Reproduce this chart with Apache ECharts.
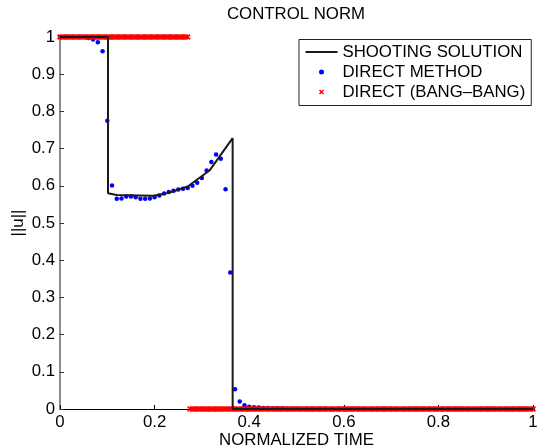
<!DOCTYPE html>
<html>
<head>
<meta charset="utf-8">
<script src="https://cdn.jsdelivr.net/npm/echarts@6/dist/echarts.min.js"></script>
<style>
  html, body { margin: 0; padding: 0; background: #fff; }
  #chart { width: 537px; height: 448px; }
</style>
</head>
<body>
<div id="chart"></div>
<script>
// ---- Shooting solution (black line) ----
var shootT = [0, 0.1015, 0.1015, 0.12, 0.197, 0.23, 0.27, 0.316, 0.365, 0.365, 1];
var shootU = [1, 1, 0.58, 0.575, 0.573, 0.581, 0.598, 0.641, 0.728, 0, 0];

// ---- Direct method (blue dots) ----
var dmT = [0,0.01,0.02,0.03,0.04,0.05,0.06,0.07,0.08,0.09,
  0.1,0.11,0.12,0.13,0.14,0.15,0.16,0.17,0.18,0.19,
  0.2,0.21,0.22,0.23,0.24,0.25,0.26,0.27,0.28,0.29,
  0.3,0.31,0.32,0.33,0.34,0.35,0.36,0.37,0.38,0.39,
  0.4,0.41,0.42,0.43,0.44,0.45,0.46,0.47,0.48,0.49,
  0.5,0.51,0.52,0.53,0.54,0.55,0.56,0.57,0.58,0.59,
  0.6,0.61,0.62,0.63,0.64,0.65,0.66,0.67,0.68,0.69,
  0.7,0.71,0.72,0.73,0.74,0.75,0.76,0.77,0.78,0.79,
  0.8,0.81,0.82,0.83,0.84,0.85,0.86,0.87,0.88,0.89,
  0.9,0.91,0.92,0.93,0.94,0.95,0.96,0.97,0.98,0.99,1];
var dmU = [1,1,1,1,1,1,0.997,0.993,0.986,0.962,
  0.775,0.601,0.565,0.566,0.571,0.571,0.569,0.565,0.565,0.566,
  0.569,0.574,0.579,0.583,0.587,0.590,0.592,0.594,0.600,0.608,
  0.621,0.641,0.664,0.684,0.673,0.591,0.367,0.053,0.020,0.010,
  0.006,0.005,0.004,0.003,0.003,0.002,0.002,0.002,0.001,0.001,
  0.001,0,0,0,0,0,0,0,0,0,
  0,0,0,0,0,0,0,0,0,0,
  0,0,0,0,0,0,0,0,0,0,
  0,0,0,0,0,0,0,0,0,0,
  0,0,0,0,0,0,0,0,0,0,0];

// ---- Direct (bang-bang) (red crosses) ----
var bangLevels = [1, 0];
var bangOnT = [0,0.005,0.01,0.015,0.02,0.025,0.03,0.035,0.04,0.045,
  0.05,0.055,0.06,0.065,0.07,0.075,0.08,0.085,0.09,0.095,
  0.1,0.105,0.11,0.115,0.12,0.125,0.13,0.135,0.14,0.145,
  0.15,0.155,0.16,0.165,0.17,0.175,0.18,0.185,0.19,0.195,
  0.2,0.205,0.21,0.215,0.22,0.225,0.23,0.235,0.24,0.245,
  0.25,0.255,0.26,0.265,0.27];
var bangOffT = [0.275,0.28,0.285,0.29,0.295,
  0.3,0.305,0.31,0.315,0.32,0.325,0.33,0.335,0.34,0.345,
  0.35,0.355,0.36,0.365,0.37,0.375,0.38,0.385,0.39,0.395,
  0.4,0.405,0.41,0.415,0.42,0.425,0.43,0.435,0.44,0.445,
  0.45,0.455,0.46,0.465,0.47,0.475,0.48,0.485,0.49,0.495,
  0.5,0.505,0.51,0.515,0.52,0.525,0.53,0.535,0.54,0.545,
  0.55,0.555,0.56,0.565,0.57,0.575,0.58,0.585,0.59,0.595,
  0.6,0.605,0.61,0.615,0.62,0.625,0.63,0.635,0.64,0.645,
  0.65,0.655,0.66,0.665,0.67,0.675,0.68,0.685,0.69,0.695,
  0.7,0.705,0.71,0.715,0.72,0.725,0.73,0.735,0.74,0.745,
  0.75,0.755,0.76,0.765,0.77,0.775,0.78,0.785,0.79,0.795,
  0.8,0.805,0.81,0.815,0.82,0.825,0.83,0.835,0.84,0.845,
  0.85,0.855,0.86,0.865,0.87,0.875,0.88,0.885,0.89,0.895,
  0.9,0.905,0.91,0.915,0.92,0.925,0.93,0.935,0.94,0.945,
  0.95,0.955,0.96,0.965,0.97,0.975,0.98,0.985,0.99,0.995,1];

// ---- Axis ticks / labels ----
var xTickStep = 0.2;
var yTickStep = 0.1;
var seriesNames = ['SHOOTING SOLUTION', 'DIRECT METHOD', 'DIRECT (BANG\u2013BANG)'];
var titleText = 'CONTROL NORM';
var xName = 'NORMALIZED TIME';
var yName = '||u||';

function pairs(ts, us) { return ts.map(function (t, i) { return [t, us[i]]; }); }

var FONT = 'Liberation Sans, Arial, Helvetica, sans-serif';
var FS = 16.8;
var crossPath = 'path://M0,2L2,0L5,3L8,0L10,2L7,5L10,8L8,10L5,7L2,10L0,8L3,5Z';
var legendLineIcon = 'path://M0,0L0.01,0L0,0.01Z M32,5L31.99,5L32,4.99Z M0,1.5L32,1.5L32,3.5L0,3.5Z';
var legendCrossIcon = 'path://M0,0L0.01,0L0,0.01Z M32,5L31.99,5L32,4.99Z M13.5,1L14.5,0L16,1.5L17.5,0L18.5,1L17,2.5L18.5,4L17.5,5L16,3.5L14.5,5L13.5,4L15,2.5Z';

var chart = echarts.init(document.getElementById('chart'), null, { renderer: 'canvas' });
chart.setOption({
  animation: false,
  backgroundColor: '#ffffff',
  textStyle: { fontFamily: FONT },
  title: {
    text: titleText,
    left: 227, top: 6, padding: 0,
    textStyle: { fontFamily: FONT, fontSize: FS, fontWeight: 'normal', color: '#000' }
  },
  grid: { left: 60, right: 4, top: 37, bottom: 39, containLabel: false, outerBoundsMode: 'none' },
  legend: {
    orient: 'vertical',
    left: 299, top: 39.5,
    padding: [4, 6, 5, 6.5],
    itemWidth: 32, itemHeight: 5, itemGap: 3,
    backgroundColor: '#fff',
    borderColor: '#222', borderWidth: 1, borderRadius: 0,
    textStyle: { fontFamily: FONT, fontSize: FS, color: '#000' },
    data: [
      { name: seriesNames[0], icon: legendLineIcon },
      { name: seriesNames[1], icon: 'circle' },
      { name: seriesNames[2], icon: legendCrossIcon }
    ]
  },
  xAxis: {
    type: 'value', min: 0, max: 1, interval: xTickStep,
    name: xName, nameLocation: 'middle', nameGap: 23, nameMoveOverlap: false,
    nameTextStyle: { fontFamily: FONT, fontSize: FS, color: '#000' },
    axisLine: { show: true, onZero: false, lineStyle: { color: '#000', width: 1 } },
    axisTick: { show: true, inside: true, length: 4, lineStyle: { color: '#000' } },
    axisLabel: { color: '#000', fontFamily: FONT, fontSize: FS, margin: 5 },
    splitLine: { show: false }
  },
  yAxis: {
    type: 'value', min: 0, max: 1, interval: yTickStep,
    name: yName, nameLocation: 'middle', nameGap: 33, nameRotate: 90, nameMoveOverlap: false,
    nameTextStyle: { fontFamily: FONT, fontSize: FS, color: '#000' },
    axisLine: { show: true, onZero: false, lineStyle: { color: '#666', width: 1.5 } },
    axisTick: { show: true, inside: true, length: 4, lineStyle: { color: '#333' } },
    axisLabel: { color: '#000', fontFamily: FONT, fontSize: FS, margin: 5 },
    splitLine: { show: false }
  },
  series: [
    {
      name: seriesNames[0], type: 'line',
      data: pairs(shootT, shootU),
      symbol: 'none', showSymbol: false,
      color: '#1a1a1a',
      lineStyle: { color: '#1a1a1a', width: 2 },
      clip: false
    },
    {
      name: seriesNames[1], type: 'scatter',
      data: pairs(dmT, dmU),
      symbol: 'circle', symbolSize: 4.5,
      color: '#0000ff',
      itemStyle: { color: '#0000ff', opacity: 1 },
      clip: false
    },
    {
      name: seriesNames[2], type: 'scatter',
      data: bangOnT.map(function (t) { return [t, bangLevels[0]]; })
        .concat(bangOffT.map(function (t) { return [t, bangLevels[1]]; })),
      symbol: crossPath, symbolSize: 6, symbolKeepAspect: true,
      color: '#ff0000',
      itemStyle: { color: '#ff0000', opacity: 1 },
      clip: false
    }
  ]
});
</script>
</body>
</html>
